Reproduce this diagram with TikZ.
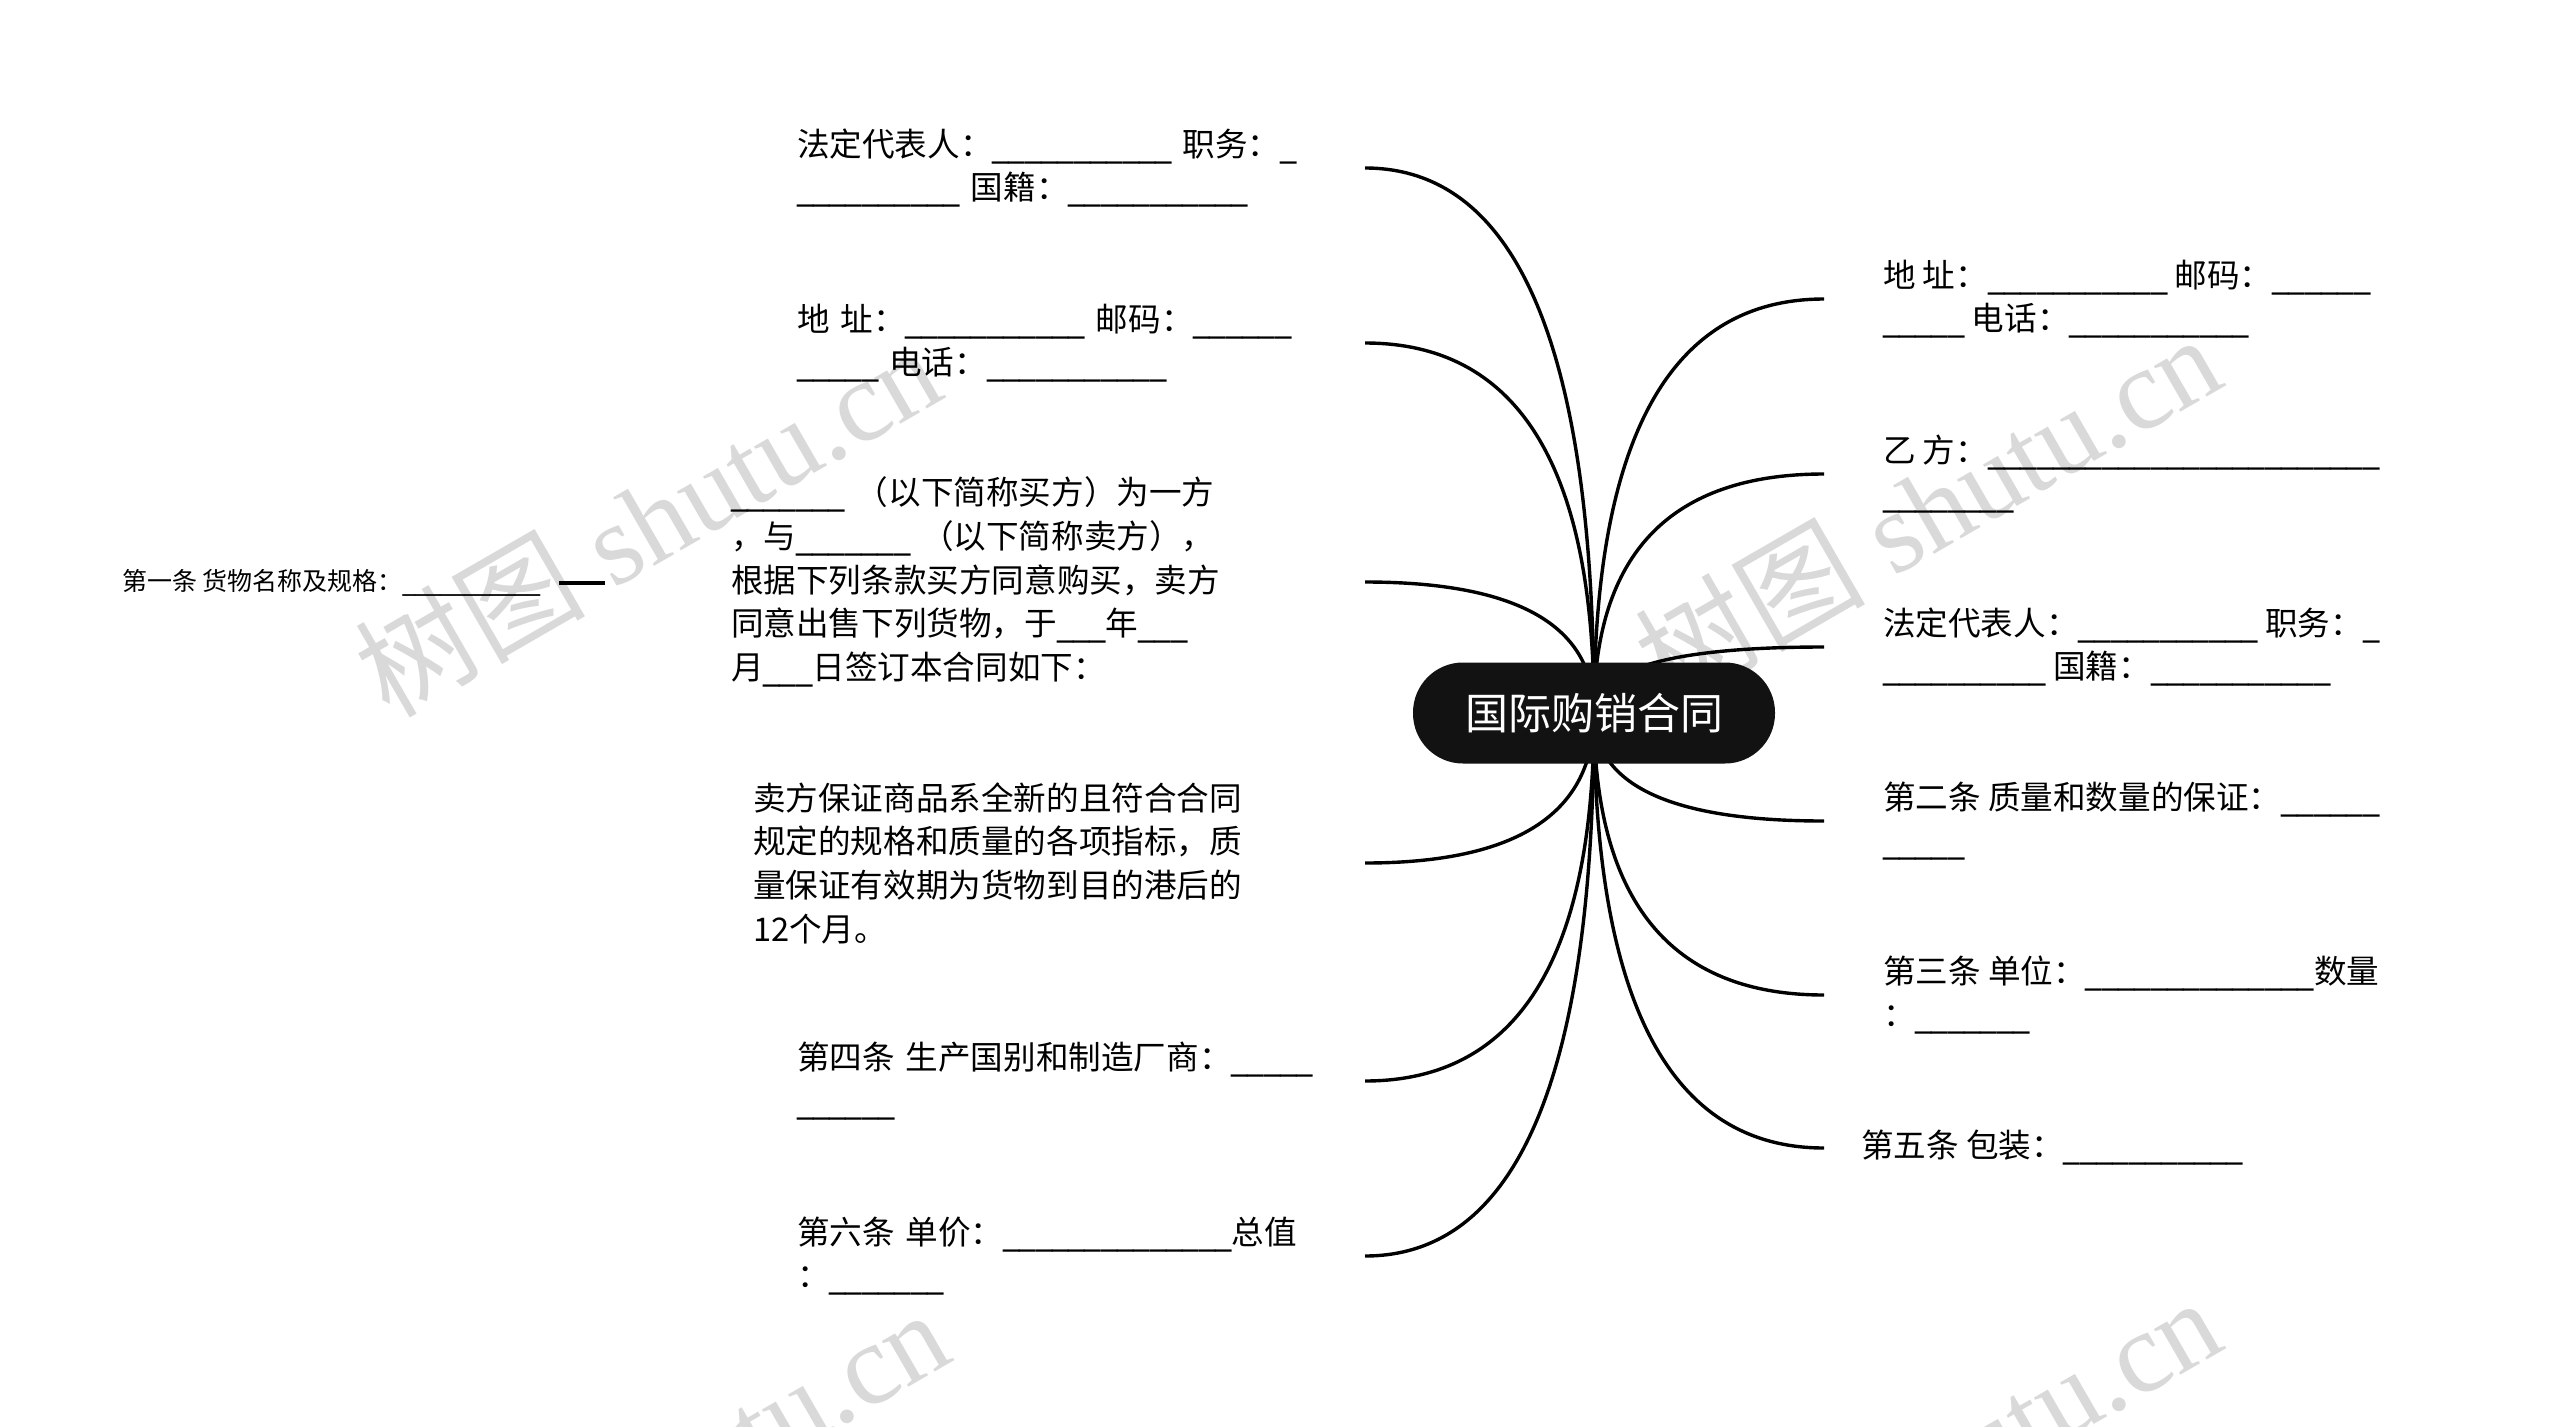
\documentclass[tikz,border=0pt]{standalone}
\usepackage{fontspec}
\setmainfont{Noto Sans CJK SC}
\newfontfamily\wmlatin{Liberation Serif}
\newfontfamily\wmcjk{Noto Sans CJK SC}
\newfontfamily\usfont{DejaVu Sans}
\usetikzlibrary{calc,backgrounds}
\newcommand\bl[1]{{\usfont\foreach\k in {1,...,#1}{\_}}}
\newcommand\myconn[1]{\draw[link] (c.center) .. controls ($(c.center)!0.667!(c.center |- #1)$) and ($(#1)!0.667!(c.center |- #1)$) .. (#1);}
\tikzset{
  leaf/.style={inner sep=0pt, outer sep=0pt, align=left, text=black,
    font=\fontsize{32.6}{43.7}\selectfont},
  lft/.style={leaf, anchor=east},
  rgt/.style={leaf, anchor=west, outer xsep=59pt},
  link/.style={line width=3.4pt, black},
  wm/.style={text=black!15, rotate=30, inner sep=0pt,
    font=\wmlatin\fontsize{115}{120}\selectfont},
  hub/.style={fill=black!93, text=white, rounded corners=50pt,
    minimum width=362pt, minimum height=101pt, inner sep=0pt,
    font=\fontsize{43}{50}\selectfont}
}
\begin{document}
\begin{tikzpicture}[x=1pt,y=-1pt]
\useasboundingbox (0,0) rectangle (2560,1427);
\clip (0,0) rectangle (2560,1427);

% left branch nodes
\node[lft, text width=568pt] (l1) at (1365,168) {法定代表人：\bl{11} 职务：\bl{1}\\\bl{10} 国籍：\bl{11}};
\node[lft, text width=568pt] (l2) at (1365,343) {地 址：\bl{11} 邮码：\bl{6}\\\bl{5} 电话：\bl{11}};
\node[lft, text width=634pt] (l3) at (1365,582) {\bl{7} （以下简称买方）为一方\\，与\bl{7} （以下简称卖方），\\根据下列条款买方同意购买，卖方\\同意出售下列货物，于\bl{3}年\bl{3}\\月\bl{3}日签订本合同如下：};
\node[lft, text width=612pt] (l4) at (1365,863) {卖方保证商品系全新的且符合合同\\规定的规格和质量的各项指标，质\\量保证有效期为货物到目的港后的\\12个月。};
\node[lft, text width=568pt] (l5) at (1365,1081) {第四条 生产国别和制造厂商：\bl{5}\\\bl{6}};
\node[lft, text width=568pt] (l6) at (1365,1256) {第六条 单价：\bl{14}总值\\：\bl{7}};

% right branch nodes
\node[rgt] (r1) at (1824,299) {地 址：\bl{11} 邮码：\bl{6}\\\bl{5} 电话：\bl{11}};
\node[rgt] (r2) at (1824,474) {乙 方：\bl{24}\\\bl{8}};
\node[rgt] (r3) at (1824,647) {法定代表人：\bl{11} 职务：\bl{1}\\\bl{10} 国籍：\bl{11}};
\node[rgt] (r4) at (1824,821) {第二条 质量和数量的保证：\bl{6}\\\bl{5}};
\node[rgt] (r5) at (1824,995) {第三条 单位：\bl{14}数量\\：\bl{7}};
\node[rgt, outer xsep=37pt] (r6) at (1824,1148) {第五条 包装：\bl{11}};

% detached node
\node[leaf, anchor=west, font=\fontsize{25}{30}\selectfont] (n0) at (122,583) {第一条 货物名称及规格：\bl{11}};
\coordinate (s0) at (559,583);
\coordinate (s1) at (605,583);
\draw[link] (s0) -- (s1);

% central topic
\node[hub] (c) at (1594,713) {国际购销合同};

\begin{scope}[on background layer]
\fill[white] (0,0) rectangle (2560,1427);
\node[wm] (w1) at (647,520) {{\wmcjk 树图} shutu.cn};
\node[wm] (w2) at (1927,508) {{\wmcjk 树图} shutu.cn};
\node[wm] (w3) at (655,1483) {{\wmcjk 树图} shutu.cn};
\node[wm] (w4) at (1927,1471) {{\wmcjk 树图} shutu.cn};
\myconn{l1.east}
\myconn{l2.east}
\myconn{l3.east}
\myconn{l4.east}
\myconn{l5.east}
\myconn{l6.east}
\myconn{r1.west}
\myconn{r2.west}
\myconn{r3.west}
\myconn{r4.west}
\myconn{r5.west}
\myconn{r6.west}
\end{scope}
\end{tikzpicture}
\end{document}
